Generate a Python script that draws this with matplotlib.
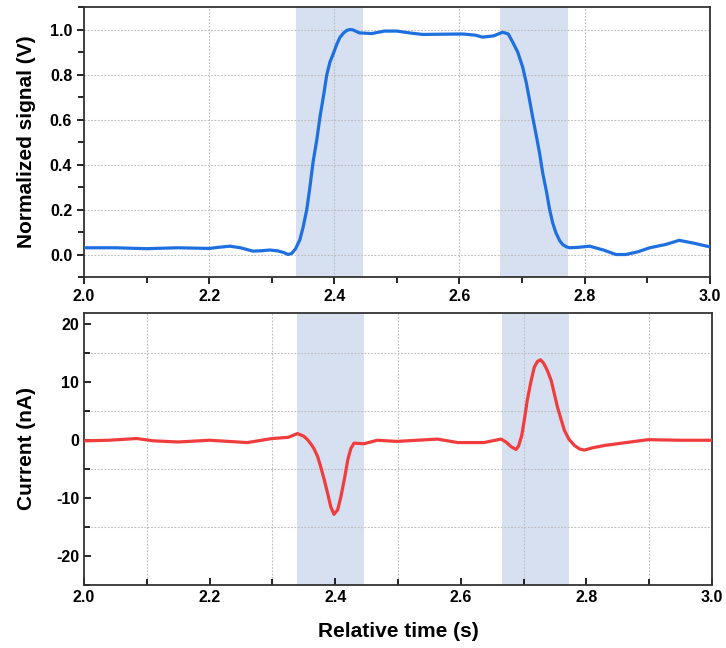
import matplotlib.pyplot as plt
from matplotlib.ticker import MultipleLocator

plt.rcParams['font.family'] = ['Liberation Sans', 'DejaVu Sans']
plt.rcParams['font.weight'] = 'bold'
plt.rcParams['axes.unicode_minus'] = False

# normalized signal (top panel)
t_sig = [2.0, 2.05, 2.1, 2.15, 2.2, 2.215, 2.233, 2.25, 2.27, 2.285, 2.297, 2.31, 2.32,
         2.326, 2.332, 2.338, 2.345, 2.35, 2.356, 2.361, 2.366, 2.372, 2.377, 2.383,
         2.388, 2.393, 2.398, 2.404, 2.409, 2.415, 2.42, 2.425, 2.43, 2.44, 2.46,
         2.48, 2.5, 2.52, 2.541, 2.57, 2.605, 2.625, 2.637, 2.655, 2.669, 2.678,
         2.685, 2.693, 2.701, 2.707, 2.712, 2.717, 2.722, 2.728, 2.733, 2.739, 2.744,
         2.749, 2.754, 2.76, 2.765, 2.771, 2.776, 2.79, 2.808, 2.83, 2.85, 2.866,
         2.885, 2.904, 2.93, 2.951, 2.975, 3.0]
signal = [0.03, 0.03, 0.026, 0.03, 0.027, 0.032, 0.037, 0.03, 0.015, 0.017, 0.02, 0.016, 0.008,
          0.0, 0.005, 0.025, 0.066, 0.12, 0.2, 0.3, 0.41, 0.51, 0.61, 0.71,
          0.80, 0.855, 0.89, 0.935, 0.965, 0.985, 0.996, 1.0, 0.998, 0.985, 0.982,
          0.993, 0.993, 0.985, 0.978, 0.979, 0.98, 0.975, 0.966, 0.972, 0.988, 0.98,
          0.944, 0.9, 0.833, 0.76, 0.686, 0.61, 0.539, 0.45, 0.362, 0.28, 0.2,
          0.14, 0.097, 0.062, 0.044, 0.034, 0.03, 0.032, 0.037, 0.02, 0.0, 0.0,
          0.012, 0.03, 0.045, 0.063, 0.05, 0.034]

# current (bottom panel)
t_cur = [2.0, 2.04, 2.084, 2.11, 2.15, 2.2, 2.26, 2.3, 2.325, 2.34, 2.35, 2.356, 2.361,
         2.366, 2.372, 2.377, 2.383, 2.388, 2.393, 2.398, 2.404, 2.409, 2.415, 2.42,
         2.425, 2.43, 2.446, 2.467, 2.498, 2.563, 2.595, 2.637, 2.664, 2.672, 2.68,
         2.688, 2.692, 2.697, 2.701, 2.706, 2.712, 2.717, 2.722, 2.727, 2.732, 2.738,
         2.744, 2.749, 2.754, 2.76, 2.765, 2.772, 2.781, 2.789, 2.797, 2.81, 2.829,
         2.87, 2.898, 2.95, 3.0]
current = [-0.1, 0.0, 0.3, -0.1, -0.3, 0.0, -0.4, 0.3, 0.5, 1.15, 0.7, 0.1, -0.6,
           -1.4, -2.8, -4.6, -7.0, -9.2, -11.5, -12.8, -12.0, -9.8, -6.5, -3.4,
           -1.4, -0.5, -0.6, 0.0, -0.2, 0.2, -0.4, -0.4, 0.2, -0.3, -1.1,
           -1.6, -1.0, 0.8, 3.4, 7.0, 10.3, 12.6, 13.6, 13.9, 13.3, 12.0,
           10.3, 8.0, 5.7, 3.5, 1.7, 0.2, -0.9, -1.5, -1.7, -1.3, -0.9,
           -0.3, 0.1, 0.0, 0.0]

spans = [(2.339, 2.446), (2.665, 2.773)]
span_color = '#d7e0f1'

fig = plt.figure(figsize=(7.26, 6.48), dpi=100)
ax1 = fig.add_axes([0.1157, 0.5725, 0.862, 0.4167])
ax2 = fig.add_axes([0.1157, 0.0972, 0.865, 0.42])

for ax in (ax1, ax2):
    for a, b in spans:
        ax.axvspan(a, b, color=span_color, lw=0, zorder=0)
    for s in ax.spines.values():
        s.set_linewidth(1.3)
        s.set_color('#333333')
    ax.set_xlim(2.0, 3.0)
    ax.xaxis.set_major_locator(MultipleLocator(0.2))
    ax.xaxis.set_minor_locator(MultipleLocator(0.1))
    ax.tick_params(labelsize=11.5, width=1.2, length=5)
    ax.tick_params(which='minor', width=1.2, length=4)
    ax.set_axisbelow(True)
    for lab in ax.get_xticklabels() + ax.get_yticklabels():
        lab.set_fontweight('bold')

ax1.plot(t_sig, signal, color='#1e6fe0', lw=2.3, zorder=3)
ax1.set_ylim(-0.1, 1.1)
ax1.yaxis.set_major_locator(MultipleLocator(0.2))
ax1.yaxis.set_minor_locator(MultipleLocator(0.1))
ax1.tick_params(which='both', direction='out')
ax1.grid(True, which='major', color='#bbbbbb', ls=(0, (1.5, 1.5)), lw=0.8)
ax1.set_ylabel('Normalized signal (V)', fontsize=15, fontweight='bold')
ax1.yaxis.set_label_coords(-0.077, 0.5)

ax2.plot(t_cur, current, color='#f03c3c', lw=2.3, zorder=3)
ax2.set_ylim(-25, 22)
ax2.yaxis.set_major_locator(MultipleLocator(10))
ax2.yaxis.set_minor_locator(MultipleLocator(5))
ax2.tick_params(which='both', direction='in')
ax2.grid(True, which='minor', color='#bbbbbb', ls=(0, (1.5, 1.5)), lw=0.8)
ax2.set_ylabel('Current (nA)', fontsize=15, fontweight='bold')
ax2.yaxis.set_label_coords(-0.077, 0.5)
ax2.set_xlabel('Relative time (s)', fontsize=15, fontweight='bold', labelpad=12)

fig.savefig('out.png', dpi=100)
